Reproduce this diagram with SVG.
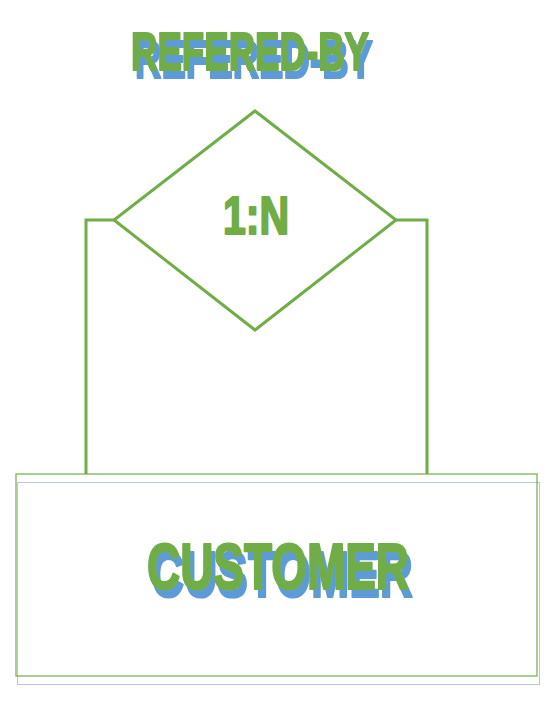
<svg xmlns="http://www.w3.org/2000/svg" width="556" height="702" viewBox="0 0 556 702">
<style>
.ln{fill:none;stroke:#70ad47;stroke-width:3;stroke-linejoin:miter}
.t{font-family:"Liberation Sans",Arial,sans-serif;font-weight:bold;text-anchor:start;fill:#70ad47;stroke:#70ad47;stroke-width:2.2;stroke-linejoin:round}
.sh{filter:url(#shadow)}
</style>
<defs>
<filter id="shadow" x="-10%" y="-20%" width="130%" height="160%">
<feFlood flood-color="#5b9bd5" result="c"/>
<feComposite in="c" in2="SourceAlpha" operator="in" result="s"/>
<feOffset in="s" dx="4" dy="8" result="o"/>
<feMerge><feMergeNode in="o"/><feMergeNode in="SourceGraphic"/></feMerge>
</filter>
</defs>
<rect width="556" height="702" fill="#fff"/>
<g id="connectors">
<polyline class="ln" points="86,474 86,220 114,220"/>
<polyline class="ln" points="396,220 427,220 427,474"/>
</g>
<g id="refered-by">
<polygon class="ln" points="255,111 396,220 255,330 114,220"/>
<text class="t sh" x="131" y="70" font-size="54" textLength="238" lengthAdjust="spacingAndGlyphs">REFERED-BY</text>
<text class="t" x="223" y="234" font-size="54" textLength="66" lengthAdjust="spacingAndGlyphs">1:N</text>
</g>
<g id="customer">
<rect x="16" y="474" width="521" height="202" fill="none" stroke="#70ad47" stroke-width="1.2"/>
<rect x="17.5" y="482.5" width="522" height="202" fill="none" stroke="#6f8fb0" stroke-width="1" stroke-dasharray="1,1"/>
<text class="t sh" x="147" y="589" font-size="64" textLength="262" lengthAdjust="spacingAndGlyphs">CUSTOMER</text>
</g>
</svg>
